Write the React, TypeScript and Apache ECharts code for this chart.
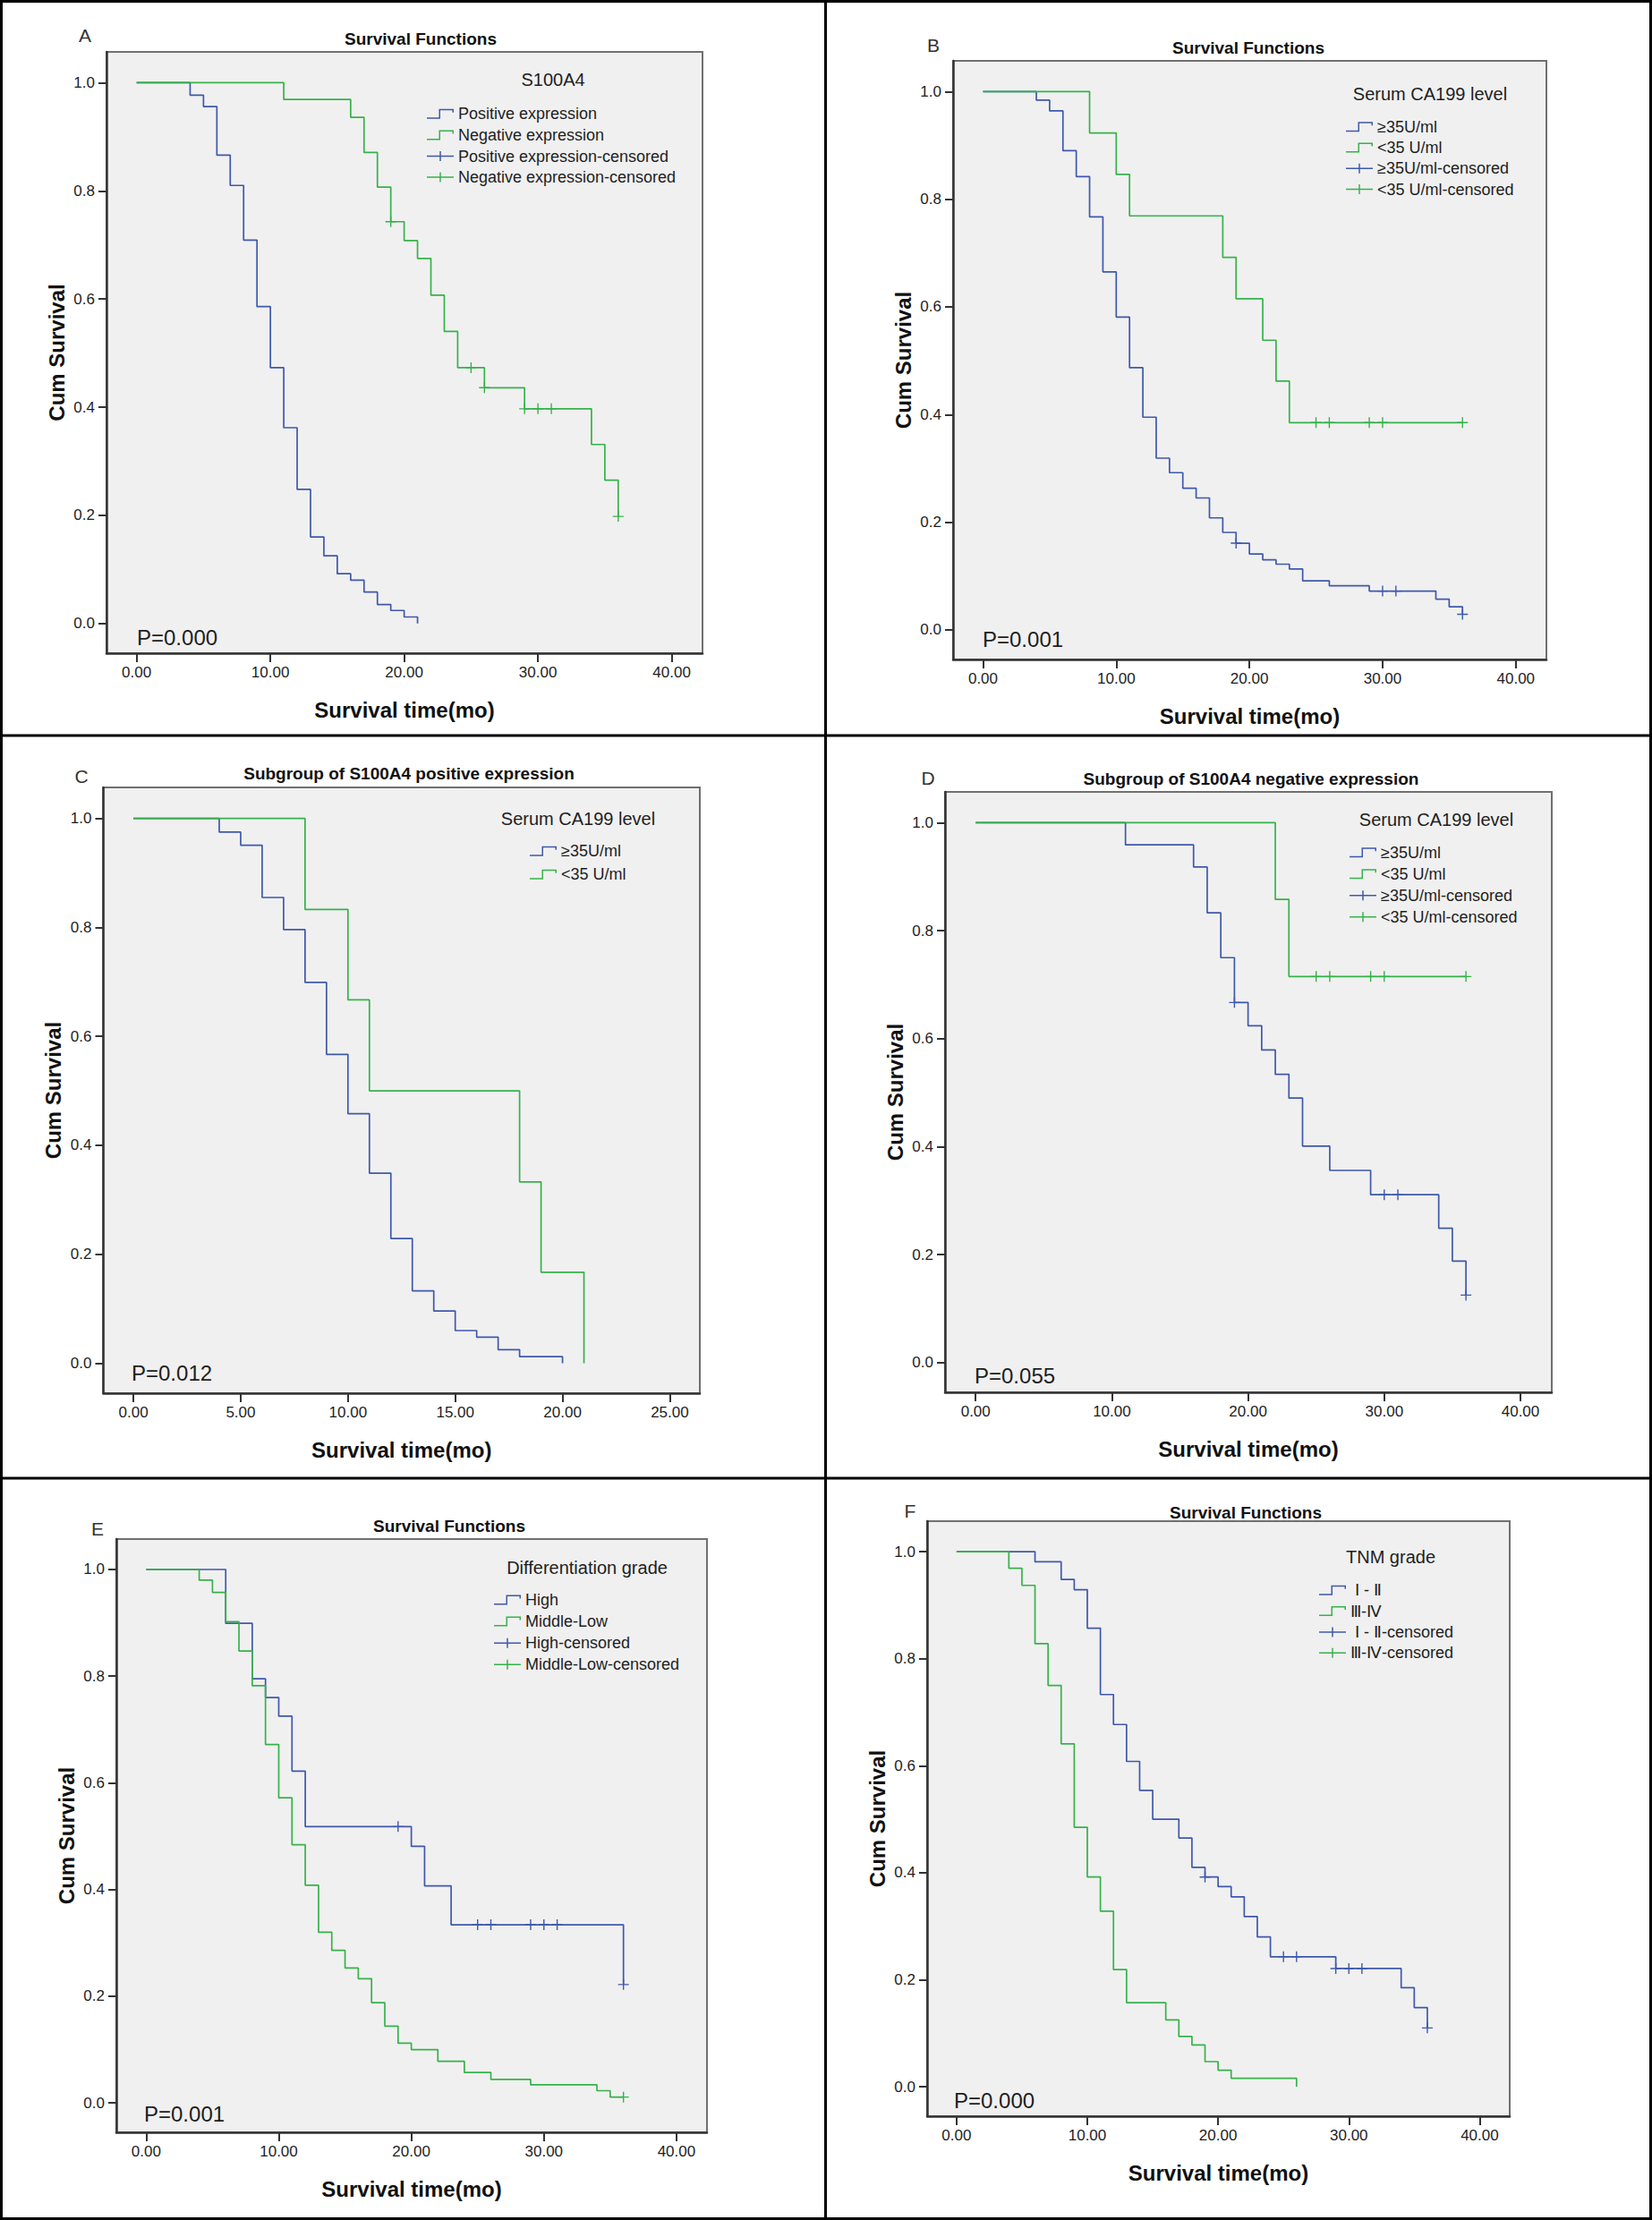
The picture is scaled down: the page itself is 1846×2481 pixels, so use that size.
import React, { useEffect, useRef } from "react";
import * as echarts from "echarts";

const BLUE = "#3E58AC";
const GREEN = "#36B24A";
const FONT = "'Liberation Sans', Arial, Helvetica, sans-serif";
const TEXT = "#1e1e1e";

// ---------- tick values ----------
const xTicks40 = [0, 10, 20, 30, 40];
const xTicks25 = [0, 5, 10, 15, 20, 25];
const yTicks = [0, 0.2, 0.4, 0.6, 0.8, 1.0];

// ---------- Panel A : S100A4 ----------
const aPosT = [0, 4, 5, 6, 7, 8, 9, 10, 11, 12, 13, 14, 15, 16, 17, 18, 19, 20, 21];
const aPosS = [1, 0.977, 0.956, 0.866, 0.81, 0.709, 0.586, 0.473, 0.362, 0.248, 0.16, 0.125, 0.092, 0.08, 0.058, 0.035, 0.024, 0.012, 0.0];
const aNegT = [0, 11, 16, 17, 18, 19, 20, 21, 22, 23, 24, 26, 29, 34, 35, 36];
const aNegS = [1, 0.969, 0.936, 0.871, 0.807, 0.743, 0.708, 0.675, 0.607, 0.54, 0.473, 0.436, 0.397, 0.331, 0.265, 0.198];
const aPosCensT: number[] = [];
const aPosCensS: number[] = [];
const aNegCensT = [19, 25, 26, 29, 30, 31, 36];
const aNegCensS = [0.743, 0.473, 0.436, 0.397, 0.397, 0.397, 0.198];

// ---------- Panel B : Serum CA199 ----------
const bHighT = [0, 4, 5, 6, 7, 8, 9, 10, 11, 12, 13, 14, 15, 16, 17, 18, 19, 20, 21, 22, 23, 24, 26, 29, 34, 35, 36];
const bHighS = [1, 0.984, 0.964, 0.89, 0.842, 0.767, 0.665, 0.581, 0.487, 0.395, 0.319, 0.292, 0.263, 0.245, 0.208, 0.181, 0.161, 0.141, 0.13, 0.122, 0.113, 0.091, 0.082, 0.072, 0.057, 0.043, 0.029];
const bHighCensT = [19, 30, 31, 36];
const bHighCensS = [0.161, 0.072, 0.072, 0.029];
const bLowT = [0, 8, 10, 11, 18, 19, 21, 22, 23, 36];
const bLowS = [1, 0.923, 0.846, 0.769, 0.692, 0.615, 0.538, 0.462, 0.385, 0.385];
const bLowCensT = [25, 26, 29, 30, 36];
const bLowCensS = [0.385, 0.385, 0.385, 0.385, 0.385];

// ---------- Panel C : S100A4 positive subgroup ----------
const cHighT = [0, 4, 5, 6, 7, 8, 9, 10, 11, 12, 13, 14, 15, 16, 17, 18, 20];
const cHighS = [1, 0.975, 0.951, 0.855, 0.796, 0.699, 0.567, 0.458, 0.349, 0.229, 0.133, 0.096, 0.06, 0.048, 0.025, 0.012, 0.0];
const cLowT = [0, 8, 10, 11, 18, 19, 21];
const cLowS = [1, 0.833, 0.667, 0.5, 0.333, 0.167, 0.0];

// ---------- Panel D : S100A4 negative subgroup ----------
const dHighT = [0, 11, 16, 17, 18, 19, 20, 21, 22, 23, 24, 26, 29, 34, 35, 36];
const dHighS = [1, 0.959, 0.918, 0.833, 0.75, 0.667, 0.624, 0.579, 0.534, 0.49, 0.401, 0.356, 0.311, 0.249, 0.188, 0.125];
const dHighCensT = [19, 30, 31, 36];
const dHighCensS = [0.667, 0.311, 0.311, 0.125];
const dLowT = [0, 22, 23, 36];
const dLowS = [1, 0.858, 0.715, 0.715];
const dLowCensT = [25, 26, 29, 30, 36];
const dLowCensS = [0.715, 0.715, 0.715, 0.715, 0.715];

// ---------- Panel E : Differentiation grade ----------
const eHighT = [0, 6, 8, 9, 10, 11, 12, 20, 21, 23, 36];
const eHighS = [1, 0.899, 0.795, 0.76, 0.725, 0.622, 0.518, 0.481, 0.407, 0.334, 0.222];
const eHighCensT = [19, 25, 26, 29, 30, 31, 36];
const eHighCensS = [0.518, 0.334, 0.334, 0.334, 0.334, 0.334, 0.222];
const eLowT = [0, 4, 5, 6, 7, 8, 9, 10, 11, 12, 13, 14, 15, 16, 17, 18, 19, 20, 22, 24, 26, 29, 34, 35, 36];
const eLowS = [1, 0.98, 0.957, 0.902, 0.847, 0.782, 0.672, 0.572, 0.484, 0.408, 0.32, 0.286, 0.253, 0.233, 0.188, 0.144, 0.112, 0.1, 0.078, 0.057, 0.044, 0.034, 0.023, 0.011, 0.011];
const eLowCensT = [36];
const eLowCensS = [0.011];

// ---------- Panel F : TNM grade ----------
const fEarlyT = [0, 6, 8, 9, 10, 11, 12, 13, 14, 15, 17, 18, 19, 20, 21, 22, 23, 24, 29, 34, 35, 36];
const fEarlyS = [1, 0.981, 0.948, 0.929, 0.857, 0.733, 0.677, 0.608, 0.554, 0.5, 0.465, 0.41, 0.392, 0.374, 0.355, 0.318, 0.28, 0.243, 0.221, 0.185, 0.148, 0.11];
const fEarlyCensT = [19, 25, 26, 29, 30, 31, 36];
const fEarlyCensS = [0.392, 0.243, 0.243, 0.221, 0.221, 0.221, 0.11];
const fLateT = [0, 4, 5, 6, 7, 8, 9, 10, 11, 12, 13, 16, 17, 18, 19, 20, 21, 26];
const fLateS = [1, 0.969, 0.937, 0.828, 0.75, 0.641, 0.485, 0.392, 0.328, 0.219, 0.157, 0.125, 0.094, 0.078, 0.047, 0.031, 0.016, 0.0];
const fLateCensT: number[] = [];
const fLateCensS: number[] = [];

// ---------- symbols ----------
const STEP_ICON = "path://M0,9.5H15V11H0Z M13.5,0H15V11H13.5Z M13.5,0H30V1.5H13.5Z M28.5,0H30V4H28.5Z";
const CENS_ICON = "path://M0,4.75H30V6.25H0Z M14.25,0H15.75V11H14.25Z";
const PLUS = "path://M0,5.3H12V6.7H0Z M5.3,0H6.7V12H5.3Z";

type S = { name: string; color: string; kind: "curve" | "censor"; t: number[]; s: number[] };
type Panel = {
  letter: string; title: string; legendTitle: string; p: string;
  box: [number, number, number, number];
  xMin: number; xMax: number; xTicks: number[];
  letterPos: [number, number]; titlePos: [number, number]; legendTitlePos: [number, number];
  legendLeft: number; legendTop: number; legendGap: number;
  pPos: [number, number];
  series: S[];
};

const GE = "≥35U/ml";
const LT = "<35 U/ml";

const panels: Panel[] = [
  {
    letter: "A", title: "Survival Functions", legendTitle: "S100A4", p: "P=0.000",
    box: [119, 58, 785, 730], xMin: -2.25, xMax: 42.3, xTicks: xTicks40,
    letterPos: [95, 39], titlePos: [470, 43], legendTitlePos: [618, 89],
    legendLeft: 477, legendTop: 117.3, legendGap: 3.6, pPos: [153, 712],
    series: [
      { name: "Positive expression", color: BLUE, kind: "curve", t: aPosT, s: aPosS },
      { name: "Negative expression", color: GREEN, kind: "curve", t: aNegT, s: aNegS },
      { name: "Positive expression-censored", color: BLUE, kind: "censor", t: aPosCensT, s: aPosCensS },
      { name: "Negative expression-censored", color: GREEN, kind: "censor", t: aNegCensT, s: aNegCensS },
    ],
  },
  {
    letter: "B", title: "Survival Functions", legendTitle: "Serum CA199 level", p: "P=0.001",
    box: [1065, 68, 1728, 737], xMin: -2.25, xMax: 42.3, xTicks: xTicks40,
    letterPos: [1043, 50], titlePos: [1395, 53], legendTitlePos: [1598, 105],
    legendLeft: 1504, legendTop: 131.7, legendGap: 3.3, pPos: [1098, 714],
    series: [
      { name: GE, color: BLUE, kind: "curve", t: bHighT, s: bHighS },
      { name: LT, color: GREEN, kind: "curve", t: bLowT, s: bLowS },
      { name: GE + "-censored", color: BLUE, kind: "censor", t: bHighCensT, s: bHighCensS },
      { name: LT + "-censored", color: GREEN, kind: "censor", t: bLowCensT, s: bLowCensS },
    ],
  },
  {
    letter: "C", title: "Subgroup of S100A4 positive expression", legendTitle: "Serum CA199 level", p: "P=0.012",
    box: [115.5, 880, 782, 1557], xMin: -1.4, xMax: 26.4, xTicks: xTicks25,
    letterPos: [91, 867], titlePos: [457, 864], legendTitlePos: [646, 915],
    legendLeft: 592, legendTop: 941.3, legendGap: 5.9, pPos: [147, 1534],
    series: [
      { name: GE, color: BLUE, kind: "curve", t: cHighT, s: cHighS },
      { name: LT, color: GREEN, kind: "curve", t: cLowT, s: cLowS },
    ],
  },
  {
    letter: "D", title: "Subgroup of S100A4 negative expression", legendTitle: "Serum CA199 level", p: "P=0.055",
    box: [1056, 885, 1734, 1556], xMin: -2.25, xMax: 42.3, xTicks: xTicks40,
    letterPos: [1037, 869], titlePos: [1398, 870], legendTitlePos: [1605, 916],
    legendLeft: 1508, legendTop: 942.8, legendGap: 4, pPos: [1089, 1537],
    series: [
      { name: GE, color: BLUE, kind: "curve", t: dHighT, s: dHighS },
      { name: LT, color: GREEN, kind: "curve", t: dLowT, s: dLowS },
      { name: GE + "-censored", color: BLUE, kind: "censor", t: dHighCensT, s: dHighCensS },
      { name: LT + "-censored", color: GREEN, kind: "censor", t: dLowCensT, s: dLowCensS },
    ],
  },
  {
    letter: "E", title: "Survival Functions", legendTitle: "Differentiation grade", p: "P=0.001",
    box: [130, 1720, 790, 2383], xMin: -2.25, xMax: 42.3, xTicks: xTicks40,
    letterPos: [109, 1708], titlePos: [502, 1705], legendTitlePos: [656, 1752],
    legendLeft: 552, legendTop: 1778, legendGap: 4.1, pPos: [161, 2362],
    series: [
      { name: "High", color: BLUE, kind: "curve", t: eHighT, s: eHighS },
      { name: "Middle-Low", color: GREEN, kind: "curve", t: eLowT, s: eLowS },
      { name: "High-censored", color: BLUE, kind: "censor", t: eHighCensT, s: eHighCensS },
      { name: "Middle-Low-censored", color: GREEN, kind: "censor", t: eLowCensT, s: eLowCensS },
    ],
  },
  {
    letter: "F", title: "Survival Functions", legendTitle: "TNM grade", p: "P=0.000",
    box: [1036, 1700, 1687, 2365], xMin: -2.25, xMax: 42.3, xTicks: xTicks40,
    letterPos: [1017, 1688], titlePos: [1392, 1690], legendTitlePos: [1554, 1740],
    legendLeft: 1474, legendTop: 1767.3, legendGap: 3.3, pPos: [1066, 2347],
    series: [
      { name: " Ⅰ - Ⅱ", color: BLUE, kind: "curve", t: fEarlyT, s: fEarlyS },
      { name: "Ⅲ-Ⅳ", color: GREEN, kind: "curve", t: fLateT, s: fLateS },
      { name: " Ⅰ - Ⅱ-censored", color: BLUE, kind: "censor", t: fEarlyCensT, s: fEarlyCensS },
      { name: "Ⅲ-Ⅳ-censored", color: GREEN, kind: "censor", t: fLateCensT, s: fLateCensS },
    ],
  },
];

function text(x: number, y: number, t: string, size: number, opts: any = {}) {
  return {
    type: "text",
    x, y, silent: true,
    style: {
      text: t,
      fontSize: size,
      fontFamily: FONT,
      fontWeight: opts.bold ? "bold" : "normal",
      fill: opts.fill || TEXT,
      align: opts.align || "center",
      verticalAlign: "middle",
      textAlign: opts.align || "center",
      textVerticalAlign: "middle",
    },
  };
}

function buildOption() {
  const grid: any[] = [];
  const xAxis: any[] = [];
  const yAxis: any[] = [];
  const series: any[] = [];
  const legend: any[] = [];
  const graphic: any[] = [];

  panels.forEach((p, i) => {
    const [l, t, r, b] = p.box;
    grid.push({
      left: l, top: t, width: r - l, height: b - t,
      show: true, backgroundColor: "#F0F0F0", borderColor: "#707070", borderWidth: 2,
    });
    xAxis.push({
      gridIndex: i, type: "value", min: p.xMin, max: p.xMax,
      axisLine: { show: true, onZero: false, lineStyle: { color: "#333", width: 2.5 } },
      axisTick: { show: true, inside: false, length: 10, customValues: p.xTicks, lineStyle: { color: "#333", width: 2 } },
      axisLabel: {
        customValues: p.xTicks, formatter: (v: number) => v.toFixed(2),
        fontSize: 17, fontFamily: FONT, color: TEXT, margin: 13,
      },
      splitLine: { show: false },
      name: "Survival time(mo)", nameLocation: "middle", nameGap: 51,
      nameTextStyle: { fontSize: 24, fontWeight: "bold", fontFamily: FONT, color: "#111" },
    });
    yAxis.push({
      gridIndex: i, type: "value", min: -0.055, max: 1.057,
      axisLine: { show: true, onZero: false, lineStyle: { color: "#333", width: 2.5 } },
      axisTick: { show: true, inside: false, length: 9, customValues: yTicks, lineStyle: { color: "#333", width: 2 } },
      axisLabel: {
        customValues: yTicks, formatter: (v: number) => v.toFixed(1),
        fontSize: 17, fontFamily: FONT, color: TEXT, margin: 13,
      },
      splitLine: { show: false },
      name: "Cum Survival", nameLocation: "middle", nameRotate: 90, nameGap: 44,
      nameTextStyle: { fontSize: 24, fontWeight: "bold", fontFamily: FONT, color: "#111" },
    });
    p.series.forEach((s) => {
      const data = s.t.map((x, j) => [x, s.s[j]]);
      if (s.kind === "curve") {
        series.push({
          type: "line", name: s.name, xAxisIndex: i, yAxisIndex: i, data,
          step: "end", symbol: "none", showSymbol: false, clip: false, silent: true, z: 3,
          lineStyle: { color: s.color, width: 1.7 }, itemStyle: { color: s.color },
        });
      } else {
        series.push({
          type: "scatter", name: s.name, xAxisIndex: i, yAxisIndex: i, data,
          symbol: PLUS, symbolSize: [12, 12], clip: false, silent: true, z: 4,
          itemStyle: { color: s.color, opacity: 1 },
        });
      }
    });
    legend.push({
      orient: "vertical", left: p.legendLeft, top: p.legendTop, padding: 0,
      itemGap: p.legendGap, itemWidth: 30, itemHeight: 11, selectedMode: false,
      itemStyle: { borderWidth: 0 },
      textStyle: { fontSize: 18, fontFamily: FONT, color: TEXT, lineHeight: 20 },
      data: p.series.map((s) => ({ name: s.name, icon: s.kind === "curve" ? STEP_ICON : CENS_ICON })),
    });
    graphic.push(text(p.letterPos[0], p.letterPos[1], p.letter, 21, { fill: "#333" }));
    graphic.push(text(p.titlePos[0], p.titlePos[1], p.title, 19, { bold: true, fill: "#111" }));
    graphic.push(text(p.legendTitlePos[0], p.legendTitlePos[1], p.legendTitle, 20));
    graphic.push(text(p.pPos[0], p.pPos[1], p.p, 24, { align: "left" }));
  });

  // figure frame and dividers
  graphic.push({ type: "rect", silent: true, shape: { x: 1.5, y: 1.5, width: 1843, height: 2478 }, style: { fill: "none", stroke: "#000", lineWidth: 3 } });
  graphic.push({ type: "line", silent: true, shape: { x1: 922.5, y1: 0, x2: 922.5, y2: 2481 }, style: { stroke: "#000", lineWidth: 3 } });
  graphic.push({ type: "line", silent: true, shape: { x1: 0, y1: 822, x2: 1846, y2: 822 }, style: { stroke: "#000", lineWidth: 3 } });
  graphic.push({ type: "line", silent: true, shape: { x1: 0, y1: 1652, x2: 1846, y2: 1652 }, style: { stroke: "#000", lineWidth: 3 } });

  return {
    animation: false,
    backgroundColor: "#FFFFFF",
    textStyle: { fontFamily: FONT },
    grid, xAxis, yAxis, series, legend, graphic,
  };
}

export default function App() {
  const ref = useRef<HTMLDivElement>(null);
  useEffect(() => {
    document.body.style.margin = "0";
    if (!ref.current) return;
    const chart = echarts.init(ref.current, null, { renderer: "svg" });
    chart.setOption(buildOption() as any);
    return () => chart.dispose();
  }, []);
  return <div ref={ref} style={{ width: 1846, height: 2481, position: "absolute", left: 0, top: 0 }} />;
}
